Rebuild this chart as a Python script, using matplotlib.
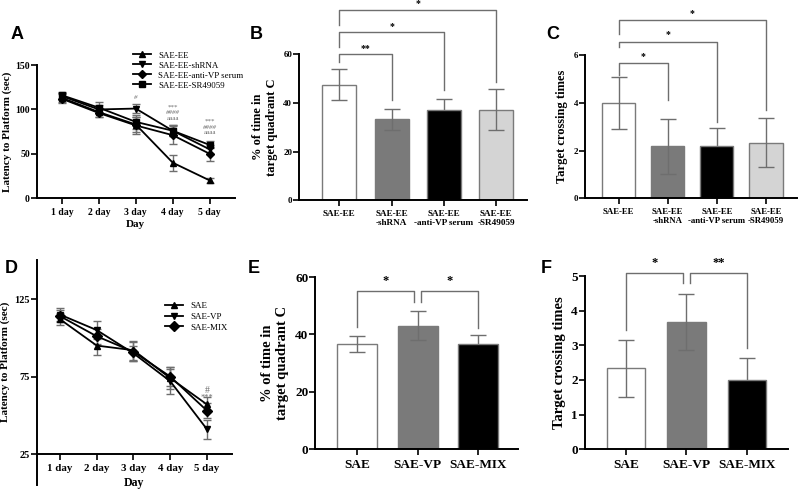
import matplotlib.pyplot as plt
import numpy as np

plt.rcParams['font.family'] = ['Liberation Serif', 'DejaVu Serif']
plt.rcParams['font.weight'] = 'bold'
plt.rcParams['axes.linewidth'] = 1.4

# ---- data ----
days = ['1 day', '2 day', '3 day', '4 day', '5 day']

# panel A
a_names = ['SAE-EE', 'SAE-EE-shRNA', 'SAE-EE-anti-VP serum', 'SAE-EE-SR49059']
a_ee = [113, 97, 83, 40, 20]
a_ee_err = [5, 5, 8, 9, 3]
a_shrna = [115, 100, 101, 76, 55]
a_shrna_err = [4, 5, 5, 6, 5]
a_antivp = [112, 96, 82, 71, 50]
a_antivp_err = [5, 5, 10, 10, 8]
a_sr = [116, 102, 86, 76, 60]
a_sr_err = [4, 6, 8, 6, 4]

# panels B, C
bc_labels = ['SAE-EE', 'SAE-EE\n-shRNA', 'SAE-EE\n-anti-VP serum', 'SAE-EE\n-SR49059']
b_vals = [47.5, 33.3, 37.2, 37.2]
b_err = [6.5, 4.3, 4.5, 8.3]
c_vals = [4.0, 2.17, 2.17, 2.33]
c_err = [1.1, 1.17, 0.77, 1.03]

# panel D
d_names = ['SAE', 'SAE-VP', 'SAE-MIX']
d_sae = [112, 95, 92, 74, 57]
d_sae_err = [4, 6, 6, 7, 5]
d_vp = [115, 105, 90, 72, 41]
d_vp_err = [4, 6, 5, 8, 6]
d_mix = [114, 101, 91, 75, 53]
d_mix_err = [4, 5, 6, 6, 5]

# panels E, F
ef_labels = ['SAE', 'SAE-VP', 'SAE-MIX']
e_vals = [36.7, 43.0, 36.7]
e_err = [2.7, 5.0, 3.0]
f_vals = [2.33, 3.67, 2.0]
f_err = [0.82, 0.82, 0.63]

bar4_colors = ['white', '#7a7a7a', 'black', '#d4d4d4']
bar3_colors = ['white', '#7a7a7a', 'black']
GRAY = '#6e6e6e'

fig = plt.figure(figsize=(8, 4.93), dpi=100)


def style(ax, ysize, xsize):
    for s in ['top', 'right']:
        ax.spines[s].set_visible(False)
    ax.tick_params(axis='both', direction='out', length=4, width=1.2)
    ax.tick_params(axis='y', labelsize=ysize, pad=1)
    ax.tick_params(axis='x', labelsize=xsize, pad=3)


def bars(ax, vals, errs, colors, labels, width):
    x = np.arange(len(vals))
    for i in range(len(vals)):
        dark = colors[i] == 'black'
        ax.bar(x[i], vals[i], width=width, color=colors[i], edgecolor='#7a7a7a',
               linewidth=1, zorder=2)
        ax.errorbar(x[i], vals[i], yerr=errs[i], color=GRAY, lw=1, capsize=6,
                    capthick=1, zorder=1 if dark else 3)
    ax.set_xticks(x)
    ax.set_xticklabels(labels, fontweight='bold')


def bracket(ax, x1, x2, y, y1, y2, txt, fs, pad):
    ax.plot([x1, x1, x2, x2], [y1, y, y, y2], color=GRAY, lw=1, clip_on=False, zorder=4)
    ax.text((x1 + x2) / 2, y + pad, txt, ha='center', va='center', fontsize=fs,
            fontweight='bold', clip_on=False)


def lines(ax, series, errs, markers, names, ms):
    x = np.arange(1, len(days) + 1)
    for s, e, m, n in zip(series, errs, markers, names):
        ax.errorbar(x, s, yerr=e, fmt='none', ecolor=GRAY, elinewidth=1, capsize=3, zorder=2)
        ax.plot(x, s, color='black', lw=1.3, marker=m, ms=ms, label=n, zorder=3)
    ax.set_xticks(x)
    ax.set_xticklabels(days, fontweight='bold')


# ---- A ----
axA = fig.add_axes([0.046, 0.598, 0.2475, 0.270])
lines(axA, [a_ee, a_shrna, a_antivp, a_sr], [a_ee_err, a_shrna_err, a_antivp_err, a_sr_err],
      ['^', 'v', 'D', 's'], a_names, 4)
axA.set_xlim(0.32, 5.68)
axA.set_ylim(0, 150)
axA.set_yticks([0, 50, 100, 150])
style(axA, 7, 7)
axA.set_xlabel('Day', fontsize=8, fontweight='bold', labelpad=2)
axA.set_ylabel('Latency to Platform (sec)', fontsize=8, fontweight='bold', labelpad=2)
leg = axA.legend(loc='upper left', bbox_to_anchor=(0.47, 1.13), frameon=False,
                 prop={'size': 6.4, 'weight': 'normal'}, handlelength=2, labelspacing=0.2,
                 borderaxespad=0)
for txt, xx, yy in [('#', 3, 113), ('***', 4, 103), ('####', 4, 96), ('aaaa', 4, 89.5),
                    ('***', 5, 87), ('####', 5, 80), ('aaaa', 5, 73.5)]:
    axA.text(xx, yy, txt, ha='center', va='center', fontsize=5, color=GRAY,
             fontweight='normal', style='italic' if txt.startswith('#') else 'normal')

# ---- B ----
axB = fig.add_axes([0.374, 0.594, 0.285, 0.296])
bars(axB, b_vals, b_err, bar4_colors, bc_labels, 0.65)
axB.set_xlim(-0.765, 3.59)
axB.set_ylim(0, 60)
axB.set_yticks([0, 20, 40, 60])
style(axB, 6.5, 6.6)
axB.set_ylabel('% of time in\ntarget quadrant C', fontsize=9, fontweight='bold', labelpad=4)
bracket(axB, 0, 1, 60, 57, 41, '**', 7, 2.5)
bracket(axB, 0, 2, 69, 63, 45.2, '*', 7, 2.5)
bracket(axB, 0, 3, 78.3, 72, 48.5, '*', 7, 2.5)

# ---- C ----
axC = fig.add_axes([0.731, 0.598, 0.265, 0.290])
bars(axC, c_vals, c_err, bar4_colors, bc_labels, 0.68)
axC.set_xlim(-0.69, 3.63)
axC.set_ylim(0, 6)
axC.set_yticks([0, 2, 4, 6])
style(axC, 6.5, 6.3)
axC.set_ylabel('Target crossing times', fontsize=9, fontweight='bold', labelpad=4)
bracket(axC, 0, 1, 5.66, 5.16, 4.1, '*', 7, 0.3)
bracket(axC, 0, 2, 6.56, 6.35, 3.2, '*', 7, 0.3)
bracket(axC, 0, 3, 7.47, 6.9, 3.7, '*', 7, 0.3)

# ---- D ----
axD = fig.add_axes([0.046, 0.016, 0.244, 0.456])
lines(axD, [d_sae, d_vp, d_mix], [d_sae_err, d_vp_err, d_mix_err], ['^', 'v', 'D'], d_names, 5)
axD.set_xlim(0.37, 5.68)
axD.set_ylim(5, 150)
axD.set_yticks([25, 75, 125])
axD.spines['bottom'].set_position(('data', 25))
style(axD, 7.5, 7.8)
axD.set_xlabel('Day', fontsize=8.5, fontweight='bold')
axD.set_ylabel('Latency to Platform (sec)', fontsize=8, fontweight='bold')
axD.xaxis.set_label_coords(0.5, 0.035)
axD.yaxis.set_label_coords(-0.135, 0.55)
axD.legend(loc='upper left', bbox_to_anchor=(0.64, 0.83), frameon=False,
           prop={'size': 6.5, 'weight': 'normal'}, handlelength=2, labelspacing=0.25,
           borderaxespad=0)
axD.text(5, 66, '#', ha='center', va='center', fontsize=7, color=GRAY, fontweight='normal')
axD.text(5, 61.5, '***', ha='center', va='center', fontsize=6, color=GRAY, fontweight='normal')

# ---- E ----
axE = fig.add_axes([0.394, 0.089, 0.254, 0.349])
bars(axE, e_vals, e_err, bar3_colors, ef_labels, 0.66)
axE.set_xlim(-0.69, 2.66)
axE.set_ylim(0, 60)
axE.set_yticks([0, 20, 40, 60])
style(axE, 9.5, 9.5)
axE.set_ylabel('% of time in\ntarget quadrant C', fontsize=10.5, fontweight='bold', labelpad=4)
bracket(axE, 0, 0.94, 55.2, 42.7, 51.4, '*', 9, 3.5)
bracket(axE, 1.06, 2, 55.2, 51.4, 42.1, '*', 9, 3.5)

# ---- F ----
axF = fig.add_axes([0.731, 0.089, 0.254, 0.351])
bars(axF, f_vals, f_err, bar3_colors, ef_labels, 0.64)
axF.set_xlim(-0.68, 2.68)
axF.set_ylim(0, 5)
axF.set_yticks([0, 1, 2, 3, 4, 5])
style(axF, 9.5, 9.5)
axF.set_ylabel('Target crossing times', fontsize=10.5, fontweight='bold', labelpad=4)
bracket(axF, 0, 0.94, 5.1, 3.44, 4.79, '*', 9, 0.28)
bracket(axF, 1.06, 2, 5.1, 4.79, 2.92, '**', 9, 0.28)

# ---- panel letters ----
for letter, x, y in [('A', 0.013, 0.930), ('B', 0.312, 0.930), ('C', 0.683, 0.930),
                     ('D', 0.006, 0.455), ('E', 0.310, 0.455), ('F', 0.676, 0.455)]:
    fig.text(x, y, letter, fontsize=13, fontweight='bold', family='Liberation Sans',
             va='center')

fig.savefig('out.png', dpi=100)
